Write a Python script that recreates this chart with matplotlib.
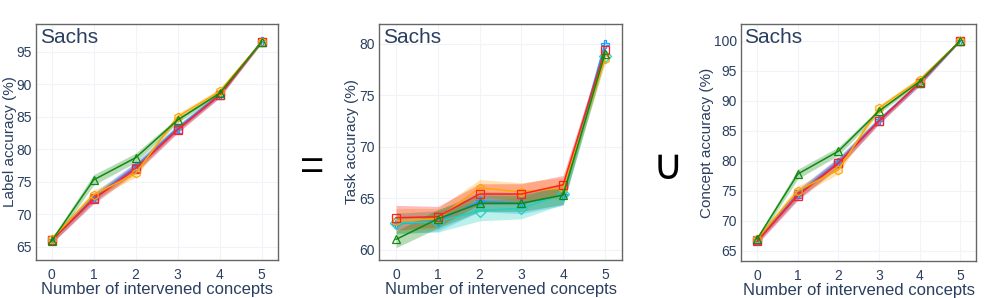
import matplotlib
matplotlib.use("Agg")
import matplotlib.pyplot as plt
import numpy as np

plt.rcParams["font.family"] = ["Liberation Sans", "DejaVu Sans"]

x = [0, 1, 2, 3, 4, 5]

# Label accuracy (%)
label_series = {
    "lightblue": [66.0, 72.6, 77.3, 83.3, 88.4, 96.6],
    "purple":    [66.1, 72.5, 77.2, 83.1, 88.4, 96.5],
    "red":       [66.0, 72.3, 77.0, 83.0, 88.3, 96.5],
    "orange":    [66.2, 73.0, 76.3, 85.0, 88.9, 96.5],
    "green":     [65.9, 75.3, 78.7, 84.5, 88.6, 96.5],
}
label_std = {
    "lightblue": [0.5, 0.7, 0.7, 0.5, 0.4, 0.2],
    "purple":    [0.5, 0.7, 0.7, 0.5, 0.4, 0.2],
    "red":       [0.5, 0.7, 0.7, 0.5, 0.4, 0.2],
    "orange":    [0.5, 0.7, 0.6, 0.5, 0.4, 0.2],
    "green":     [0.4, 0.8, 0.7, 0.4, 0.3, 0.2],
}

# Task accuracy (%)
task_series = {
    "lightblue": [62.5, 62.8, 64.7, 64.5, 65.3, 80.0],
    "turquoise": [62.6, 62.7, 63.8, 64.0, 65.4, 78.8],
    "orange":    [62.8, 63.0, 66.0, 65.6, 66.0, 78.5],
    "red":       [63.1, 63.2, 65.4, 65.4, 66.3, 79.4],
    "green":     [61.0, 63.0, 64.5, 64.5, 65.3, 79.0],
}
task_std = {
    "lightblue": [1.0, 1.0, 1.0, 1.0, 1.0, 0.5],
    "turquoise": [1.0, 1.0, 1.0, 1.0, 1.0, 0.5],
    "orange":    [1.2, 1.0, 0.8, 0.9, 1.0, 0.5],
    "red":       [1.2, 1.0, 1.0, 1.0, 0.9, 0.5],
    "green":     [0.8, 0.9, 0.8, 0.8, 0.9, 0.5],
}

# Concept accuracy (%)
concept_series = {
    "lightblue": [66.8, 74.5, 79.8, 86.8, 92.9, 100.0],
    "purple":    [66.8, 74.4, 79.7, 86.7, 92.9, 100.0],
    "red":       [66.6, 74.2, 79.6, 86.6, 93.0, 100.0],
    "orange":    [67.0, 75.0, 78.5, 88.8, 93.5, 100.0],
    "green":     [67.0, 77.8, 81.6, 88.3, 93.2, 100.0],
}
concept_std = {
    "lightblue": [0.5, 0.8, 0.8, 0.5, 0.4, 0.1],
    "purple":    [0.5, 0.8, 0.8, 0.5, 0.4, 0.1],
    "red":       [0.5, 0.8, 0.8, 0.5, 0.4, 0.1],
    "orange":    [0.5, 0.8, 0.7, 0.5, 0.4, 0.1],
    "green":     [0.4, 0.8, 0.7, 0.4, 0.3, 0.1],
}

colors = {
    "lightblue": "#1e9bff",
    "purple": "#8a5ec9",
    "turquoise": "#20d0c0",
    "orange": "#ffa500",
    "red": "#ff2020",
    "green": "#108a10",
}
markers = {
    "lightblue": "P",
    "purple": "s",
    "turquoise": "D",
    "orange": "h",
    "red": "s",
    "green": "^",
}

textc = "#2a3f5f"
fig = plt.figure(figsize=(9.96, 2.98), dpi=100)

W, H = 996, 298
def add_ax(l, r, t, b):
    return fig.add_axes([l / W, 1 - b / H, (r - l) / W, (b - t) / H])

panels = [
    (add_ax(36, 278, 24, 260), label_series, label_std, "Label accuracy (%)",
     (63.0, 99.25), [65, 70, 75, 80, 85, 90, 95], (-0.37, 5.39), (10 - 36) / 242),
    (add_ax(379, 622, 24, 260), task_series, task_std, "Task accuracy (%)",
     (59.0, 81.9), [60, 65, 70, 75, 80], (-0.41, 5.41), (352 - 379) / 243),
    (add_ax(741, 976, 24, 261), concept_series, concept_std, "Concept accuracy (%)",
     (63.3, 102.8), [65, 70, 75, 80, 85, 90, 95, 100], (-0.40, 5.39), (707 - 741) / 235),
]

for ax, series, stds, ylabel, ylim, yticks, xlim, ylx in panels:
    ax.set_facecolor("white")
    for name, vals in series.items():
        v = np.array(vals)
        s = np.array(stds[name])
        c = colors[name]
        ax.fill_between(x, v - s, v + s, color=c, alpha=0.3, linewidth=0, zorder=2)
        ax.plot(x, v, color=c, lw=1.1, marker=markers[name], ms=6,
                mfc="none", mec=c, mew=0.9, zorder=3)
    ax.set_xlim(*xlim)
    ax.set_ylim(*ylim)
    ax.set_xticks(x)
    ax.set_yticks(yticks)
    ax.grid(True, color="#f0f3f8", lw=0.8, zorder=0)
    ax.set_axisbelow(True)
    ax.tick_params(length=0, labelsize=10, colors=textc)
    ax.tick_params(axis="y", pad=3)
    ax.tick_params(axis="x", pad=6)
    for sp in ax.spines.values():
        sp.set_color("#666666")
        sp.set_linewidth(1.0)
    ax.set_xlabel("Number of intervened concepts", fontsize=12, color=textc, labelpad=0)
    ax.set_ylabel(ylabel, fontsize=11, color=textc, va="center")
    ax.yaxis.set_label_coords(ylx, 0.5)
    ax.text(0.015, 0.985, "Sachs", transform=ax.transAxes, ha="left", va="top",
            fontsize=15, color=textc)

fig.text(312 / W, 1 - 168 / H, "=", fontsize=30, color="black", ha="center", va="center")
fig.text(668 / W, 1 - 168 / H, "∪", fontsize=30, color="black", ha="center", va="center")

fig.savefig("out.png", dpi=100, facecolor="white")
